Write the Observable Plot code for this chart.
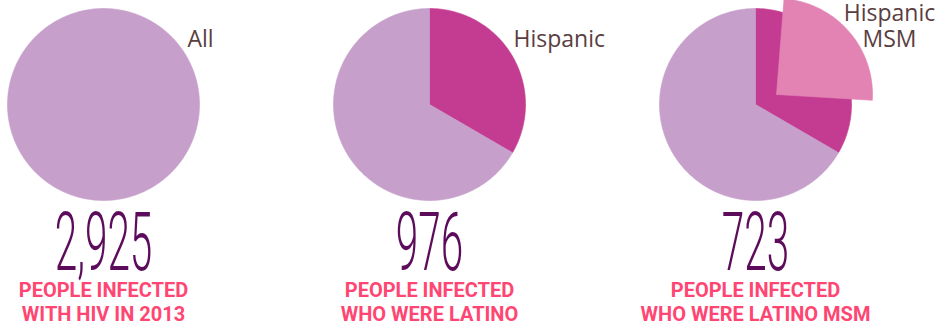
<!DOCTYPE html>
<html><head><meta charset="utf-8">
<script src="https://cdn.jsdelivr.net/npm/d3@7"></script>
<script src="https://cdn.jsdelivr.net/npm/@observablehq/plot@0.6"></script>
<style>html,body{margin:0;padding:0;background:#fff}</style>
</head><body><div id="chart"></div>
<script>
// ---- data ----
const panels = ["All", "Hispanic", "Hispanic MSM"];
const panelTotals = [2925, 976, 723];
const numberLabels = ["2,925", "976", "723"];
const sliceLabels = ["All", "Hispanic", "Hispanic\nMSM"];
const captions = [
  "PEOPLE INFECTED\nWITH HIV IN 2013",
  "PEOPLE INFECTED\nWHO WERE LATINO",
  "PEOPLE INFECTED\nWHO WERE LATINO MSM"
];
const groups = ["All", "Other", "Hispanic", "Hispanic MSM"];
const groupColors = ["#c69fcb", "#c69fcb", "#c43c91", "#e283b3"];

// ---- layout ----
const W = 938, H = 330, R = 96, CY = 104, CX0 = 103, STEP = 326;
const cxOf = i => CX0 + i * STEP;
const explodeRotation = 4.5 * Math.PI / 180;
const explodeDX = 21, explodeDY = -10;

function wedge(id, group, cx, cy, a0, a1) {
  const pts = [{id, group, x: cx, y: cy}];
  const n = Math.max(2, Math.ceil((a1 - a0) / (Math.PI / 180)));
  for (let k = 0; k <= n; k++) {
    const a = a0 + (a1 - a0) * k / n;
    pts.push({id, group, x: cx + R * Math.sin(a), y: cy - R * Math.cos(a)});
  }
  pts.push({id, group, x: cx, y: cy});
  return pts;
}

const total = panelTotals[0];
const hisp = panelTotals[1];
const msm = panelTotals[2];
const pieDefs = [
  [{group: "All", value: total}],
  [{group: "Hispanic", value: hisp}, {group: "Other", value: total - hisp}],
  [{group: "Hispanic", value: hisp}, {group: "Other", value: total - hisp}]
];
const pie = d3.pie().sort(null).value(d => d.value);
let wedgePts = [];
pieDefs.forEach((slices, i) => {
  pie(slices).forEach((s, j) => {
    wedgePts = wedgePts.concat(wedge(`p${i}s${j}`, s.data.group, cxOf(i), CY, s.startAngle, s.endAngle));
  });
});
// exploded Hispanic MSM slice on third pie
const msmAngle = 2 * Math.PI * msm / total;
wedgePts = wedgePts.concat(wedge("msm", "Hispanic MSM", cxOf(2) + explodeDX, CY + explodeDY,
  explodeRotation, explodeRotation + msmAngle));

const labelData = panels.map((p, i) => ({i, label: sliceLabels[i], num: numberLabels[i], cap: captions[i]}));

const chart = Plot.plot({
  width: W, height: H,
  marginTop: 0, marginRight: 0, marginBottom: 0, marginLeft: 0,
  x: {domain: [0, W], range: [0, W], axis: null},
  y: {domain: [0, H], range: [0, H], axis: null},
  color: {domain: groups, range: groupColors},
  style: {background: "#fff"},
  marks: [
    Plot.line(wedgePts, {x: "x", y: "y", z: "id", fill: "group", stroke: "group", strokeWidth: 0.6, curve: "linear"}),
    Plot.text(labelData.filter(d => d.i < 2), {
      x: d => cxOf(d.i) + 84, y: () => 46, text: "label",
      textAnchor: "start", lineAnchor: "bottom",
      fontFamily: "Open Sans", fontSize: 23, fill: "#5a3e41"
    }),
    Plot.text(labelData.filter(d => d.i === 2), {
      x: d => cxOf(d.i) + 134, y: () => 46, text: "label",
      textAnchor: "middle", lineAnchor: "bottom", lineHeight: 1.13,
      fontFamily: "Open Sans", fontSize: 23, fill: "#5a3e41"
    }),
    Plot.text(labelData, {
      x: d => cxOf(d.i), y: () => 269, text: "num",
      textAnchor: "middle", lineAnchor: "bottom",
      fontFamily: "Roboto", fontWeight: 300, fontSize: 81, fill: "#5d0c5b"
    }),
    Plot.text(labelData, {
      x: d => cxOf(d.i), y: () => 320, text: "cap",
      textAnchor: "middle", lineAnchor: "bottom", lineHeight: 1.2,
      fontFamily: "Roboto", fontWeight: "bold", fontSize: 20, fill: "#ff4673"
    })
  ]
});
document.getElementById("chart").appendChild(chart);

// condense the big numbers horizontally
const SX = 0.5;
for (const t of chart.querySelectorAll("text")) {
  if (!numberLabels.includes(t.textContent)) continue;
  const tr = t.getAttribute("transform");
  if (tr) {
    t.setAttribute("transform", tr + ` scale(${SX},1)`);
  } else {
    const x = parseFloat(t.getAttribute("x")) || 0;
    const y = parseFloat(t.getAttribute("y")) || 0;
    t.removeAttribute("x"); t.removeAttribute("y");
    t.setAttribute("transform", `translate(${x},${y}) scale(${SX},1)`);
  }
}
</script>
</body></html>
